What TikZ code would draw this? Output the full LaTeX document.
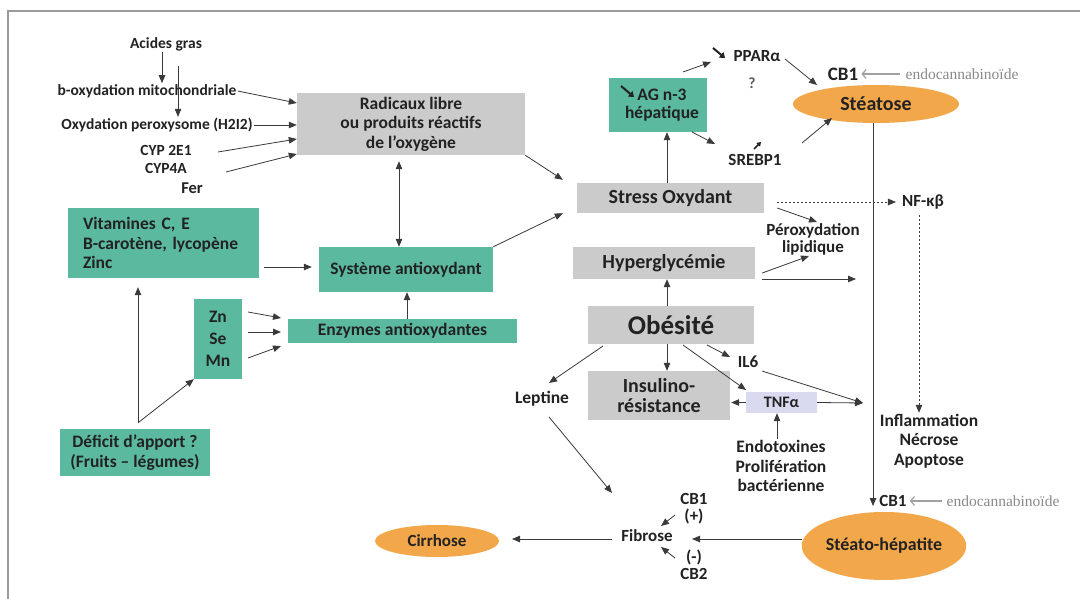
\documentclass[tikz,border=0pt]{standalone}
\usepackage{fontspec}
\setmainfont{Carlito}
\newfontfamily\tms{Liberation Serif}
\usetikzlibrary{arrows.meta,shapes.geometric}
\definecolor{teal1}{HTML}{5BB9A0}
\definecolor{gbox}{HTML}{CBCBCB}
\definecolor{orng}{HTML}{F3A74B}
\definecolor{lav}{HTML}{D9D9F0}
\definecolor{ink}{HTML}{222222}
\definecolor{lnk}{HTML}{3A3A3A}
\definecolor{frm}{HTML}{9A9A9A}
\definecolor{endog}{HTML}{8A8A8A}
\newcommand\fsz[2]{\fontsize{#1}{#2}\selectfont}
\begin{document}
\begin{tikzpicture}[x=1pt,y=-1pt,
  every node/.style={text=ink},
  box/.style={rectangle,inner sep=0pt,anchor=center,align=center},
  gbx/.style={box,fill=gbox},
  tbx/.style={box,fill=teal1},
  lbl/.style={inner sep=1pt,align=center},
  t15/.style={font=\fsz{15.5}{18}\bfseries},
  t17/.style={font=\fsz{17.5}{19.5}\bfseries},
  t20/.style={font=\fsz{20}{20.5}\bfseries},
  endo/.style={lbl,font=\tms\fsz{15.5}{16},text=endog},
  glypharr/.style={draw=ink,line width=2pt,-{Triangle[length=5pt,width=7pt]}},
  arr/.style={draw=lnk,line width=0.8pt,-{Triangle[length=8pt,width=6.5pt]}},
  arrboth/.style={draw=lnk,line width=0.8pt,{Triangle[length=8pt,width=6.5pt]}-{Triangle[length=8pt,width=6.5pt]}},
  dots/.style={draw=lnk,line width=0.8pt,dash pattern=on 2pt off 2pt,-{Triangle[length=8pt,width=6.5pt]}},
  garr/.style={draw=endog!80,line width=1.2pt,-{Straight Barb[length=4pt,width=9pt]}},
  oval/.style={ellipse,fill=orng,inner sep=0pt}
]
\useasboundingbox (0,0) rectangle (1080,599);
\fill[white] (0,0) rectangle (1080,599);
% frame
\draw[frm,line width=1.6pt] (8,599) -- (8,11) -- (1080,11);

% ---------- left column labels
\node[lbl,t15] (acides) at (166,44) {Acides gras};
\node[lbl,t15] (mito) at (147,91) {b-oxydation mitochondriale};
\node[lbl,t15] (oxp) at (157,125) {Oxydation peroxysome (H2I2)};
\node[lbl,t15] (cyp1) at (166,150) {CYP 2E1};
\node[lbl,t15] (cyp2) at (166,168) {CYP4A};
\node[lbl,font=\fsz{16.5}{18}\bfseries] (fer) at (192,188) {Fer};

% ---------- boxes left
\node[gbx,t17,minimum width=228pt,minimum height=62pt] (rad) at (411,124) {Radicaux libre\\ou produits réactifs\\de l’oxygène};
\node[tbx,t17,minimum width=191pt,minimum height=70pt,align=left,text width=161pt] (vit) at (163.5,243) {Vitamines C, E\\B-carotène, lycopène\\Zinc};
\node[tbx,t17,minimum width=174pt,minimum height=45pt] (sys) at (406,269.5) {Système antioxydant};
\node[tbx,t17,minimum width=229pt,minimum height=24pt] (enz) at (402.5,331) {Enzymes antioxydantes};
\node[tbx,font=\fsz{17.5}{22}\bfseries,minimum width=48pt,minimum height=80pt] (zn) at (218,339) {Zn\\Se\\Mn};
\node[tbx,t17,minimum width=150pt,minimum height=47pt] (def) at (135,452.5) {Déficit d'apport ?\\(Fruits – légumes)};

% ---------- right column
\node[tbx,font=\fsz{17.5}{18.7}\bfseries,minimum width=98pt,minimum height=54pt] (ag) at (658,105) {\hspace*{8pt}AG n-3\\\hspace*{8pt}hépatique};
\node[gbx,t20,minimum width=187pt,minimum height=30pt] (stress) at (670.5,198) {Stress Oxydant};
\node[gbx,t20,minimum width=182pt,minimum height=32pt] (hyper) at (664,263) {Hyperglycémie};
\node[gbx,font=\fsz{27}{28}\bfseries,minimum width=166pt,minimum height=38pt] (obes) at (671,325) {Obésité};
\node[gbx,t20,minimum width=142pt,minimum height=49pt] (insu) at (659,395.5) {Insulino-\\résistance};
\node[box,fill=lav,font=\fsz{16}{17}\bfseries,minimum width=71pt,minimum height=21pt] (tnf) at (781.5,402.5) {TNFα};

\node[lbl,font=\fsz{17}{18}\bfseries] (ppar) at (757,56) {PPARα};
\node[lbl,font=\fsz{15.5}{18}\bfseries,text=ink!75] (q) at (752,83) {?};
\node[lbl,font=\fsz{17}{18}\bfseries] (srebp) at (755,160) {SREBP1};
\node[lbl,font=\fsz{19}{20}\bfseries] (cb1t) at (843,74) {CB1};
\node[endo] (endo1) at (962,74) {endocannabinoïde};
\node[oval,font=\fsz{20}{20}\bfseries,minimum width=166pt,minimum height=38pt] (steat) at (876,104) {Stéatose};

\node[lbl,font=\fsz{17}{18}\bfseries] (nfkb) at (923,202) {NF-κβ};
\node[lbl,font=\fsz{17}{17}\bfseries] (perox) at (813,239) {Péroxydation\\lipidique};
\node[lbl,font=\fsz{17}{18}\bfseries] (il6) at (748,362) {IL6};
\node[lbl,t17] (lept) at (542,399) {Leptine};
\node[lbl,t17] (endot) at (781,466) {Endotoxines\\Prolifération\\bactérienne};
\node[lbl,t17] (infl) at (929,441) {Inflammation\\Nécrose\\Apoptose};
\node[lbl,font=\fsz{17}{18}\bfseries] (cb1b) at (893,501) {CB1};
\node[endo] (endo2) at (1003,501) {endocannabinoïde};
\node[oval,font=\fsz{18}{18}\bfseries,minimum width=164pt,minimum height=68pt] (steh) at (884,546) {Stéato-hépatite};
\node[lbl,font=\fsz{17}{18}\bfseries] (fib) at (647,536) {Fibrose};
\node[lbl,font=\fsz{17}{17}\bfseries] (cb1p) at (694,509) {CB1\\(+)};
\node[lbl,font=\fsz{17}{17}\bfseries] (cb2m) at (694,565) {(-)\\CB2};
\node[oval,font=\fsz{17}{17}\bfseries,minimum width=124pt,minimum height=32pt] (cirr) at (437,541) {Cirrhose};

% ---------- small "decrease / increase" signs
\coordinate (g1a) at (621,86); \coordinate (g1b) at (634,97);
\coordinate (g2a) at (713,48); \coordinate (g2b) at (725,58);
\coordinate (g3a) at (754,149); \coordinate (g3b) at (761,142);
\draw[glypharr] (g1a) -- (g1b);
\draw[glypharr] (g2a) -- (g2b);
\draw[glypharr,line width=1.5pt,-{Triangle[length=4pt,width=5pt]}] (g3a) -- (g3b);

% ---------- free-end coordinates
\coordinate (cy1s) at (218,152);
\coordinate (cy2s) at (226,172);
\coordinate (dc) at ([xshift=3pt,yshift=6pt]def.north);
\coordinate (agp1) at (683,72);
\coordinate (agp2) at (711,62);
\coordinate (pst1) at (785,59);
\coordinate (pst2) at (817,85);
\coordinate (ags1) at (692,132);
\coordinate (ags2) at (715,144);
\coordinate (sst1) at (802,143);
\coordinate (sst2) at (832,118);
\coordinate (vd) at (873,506);
\coordinate (hr) at (856,279);
\coordinate (obl1) at (603,346);
\coordinate (obl2) at (549,383);
\coordinate (obt1) at (683,345);
\coordinate (obt2) at (746,390);
\coordinate (obi1) at (707,345);
\coordinate (obi2) at (730,357);
\coordinate (il1) at (762,371);
\coordinate (tr) at (863,403);
\coordinate (lf1) at (549,417);
\coordinate (lf2) at (612,493);
\coordinate (cbp1) at (675,515);
\coordinate (cbp2) at (661,526);
\coordinate (cbm1) at (675,558);
\coordinate (cbm2) at (661,547);
\coordinate (fa) at (692,539);
\coordinate (fc1) at (612,539);
\coordinate (fc2) at (512,539);
\coordinate (zs1) at (248,312); \coordinate (ze1) at (281,318);
\coordinate (zs2) at (248,332); \coordinate (ze2) at (281,332);
\coordinate (zs3) at (248,358); \coordinate (ze3) at (281,346);

% ---------- connectors, left
\draw[arr] ([xshift=-4pt]acides.south) -- ([xshift=-4pt]acides.south |- mito.north);
\draw[arr,shorten <=14pt] ([xshift=12pt]acides.south) -- ([xshift=12pt]acides.south |- oxp.north);
\draw[arr] (mito.east) -- ([yshift=21pt]rad.west);
\draw[arr] (oxp.east) -- (oxp.east -| rad.west);
\draw[arr] (cy1s) -- ([yshift=-15pt]rad.west);
\draw[arr] (cy2s) -- ([yshift=-30pt]rad.west);
\draw[arr] (rad.south east) -- ([xshift=-14pt,yshift=3pt]stress.north west);
\draw[arrboth,shorten <=6pt] ([xshift=-12pt]rad.south) -- ([xshift=-12pt]rad.south |- sys.north);
\draw[arr] (sys.north east) -- ([xshift=-14pt]stress.south west);
\draw[arr,shorten <=5pt,shorten >=7pt] ([yshift=-24pt]vit.east) -- ([yshift=-24pt]vit.east -| sys.west);
\draw[arr] ([xshift=4.5pt]enz.north) -- ([xshift=4.5pt]enz.north |- sys.south);
\draw[arr] (zs1) -- (ze1);
\draw[arr] (zs2) -- (ze2);
\draw[arr] (zs3) -- (ze3);
\draw[arr] (dc) -- ([yshift=-9pt]vit.south -| dc);
\draw[arr] (dc) -- (zn.south west);

% ---------- connectors, right
\draw[arr] (agp1) -- (agp2);
\draw[arr] (pst1) -- (pst2);
\draw[garr,shorten <=4pt,shorten >=2pt] (endo1.west) -- (cb1t.east);
\draw[arr] (ags1) -- (ags2);
\draw[arr] (sst1) -- (sst2);
\draw[arr] ([xshift=-3.5pt]stress.north) -- ([xshift=-3.5pt]stress.north |- ag.south);
\draw[arr] (steat.south -| vd) -- (vd);
\draw[dots,shorten >=5pt] ([xshift=13pt,yshift=-4pt]stress.east) -- (nfkb.west);
\draw[dots,shorten <=5pt] ([xshift=-4pt]nfkb.south) -- ([xshift=-4pt]nfkb.south |- infl.north);
\draw[arr] ([xshift=13pt,yshift=-10pt]stress.east) -- ([xshift=4pt]perox.north);
\draw[arr] ([xshift=7pt,yshift=-10pt]hyper.east) -- ([xshift=-4pt]perox.south);
\draw[arr] ([xshift=7pt,yshift=-16pt]hyper.east) -- (hr);
\draw[arr] ([xshift=-4pt]obes.north) -- ([xshift=-4pt]obes.north |- hyper.south);
\draw[arr] ([xshift=-4pt]obes.south) -- ([xshift=-4pt]obes.south |- insu.north);
\draw[arr] (obl1) -- (obl2);
\draw[arr] (obt1) -- (obt2);
\draw[arr] (obi1) -- (obi2);
\draw[arr] (il1) -- (tr);
\draw[arr,shorten >=1pt] (tnf.west) -- (tnf.west -| insu.east);
\draw[arr] (tnf.east) -- (tr);
\draw[arr] ([xshift=-4pt]endot.north) -- ([xshift=-4pt]endot.north |- tnf.south);
\draw[arr] (lf1) -- (lf2);
\draw[arr] (cbp1) -- (cbp2);
\draw[arr] (cbm1) -- (cbm2);
\draw[arr] (fa -| steh.west) -- (fa);
\draw[arr] (fc1) -- (fc2);
\draw[garr,shorten <=3pt,shorten >=2pt] (endo2.west) -- (cb1b.east);
\end{tikzpicture}
\end{document}
